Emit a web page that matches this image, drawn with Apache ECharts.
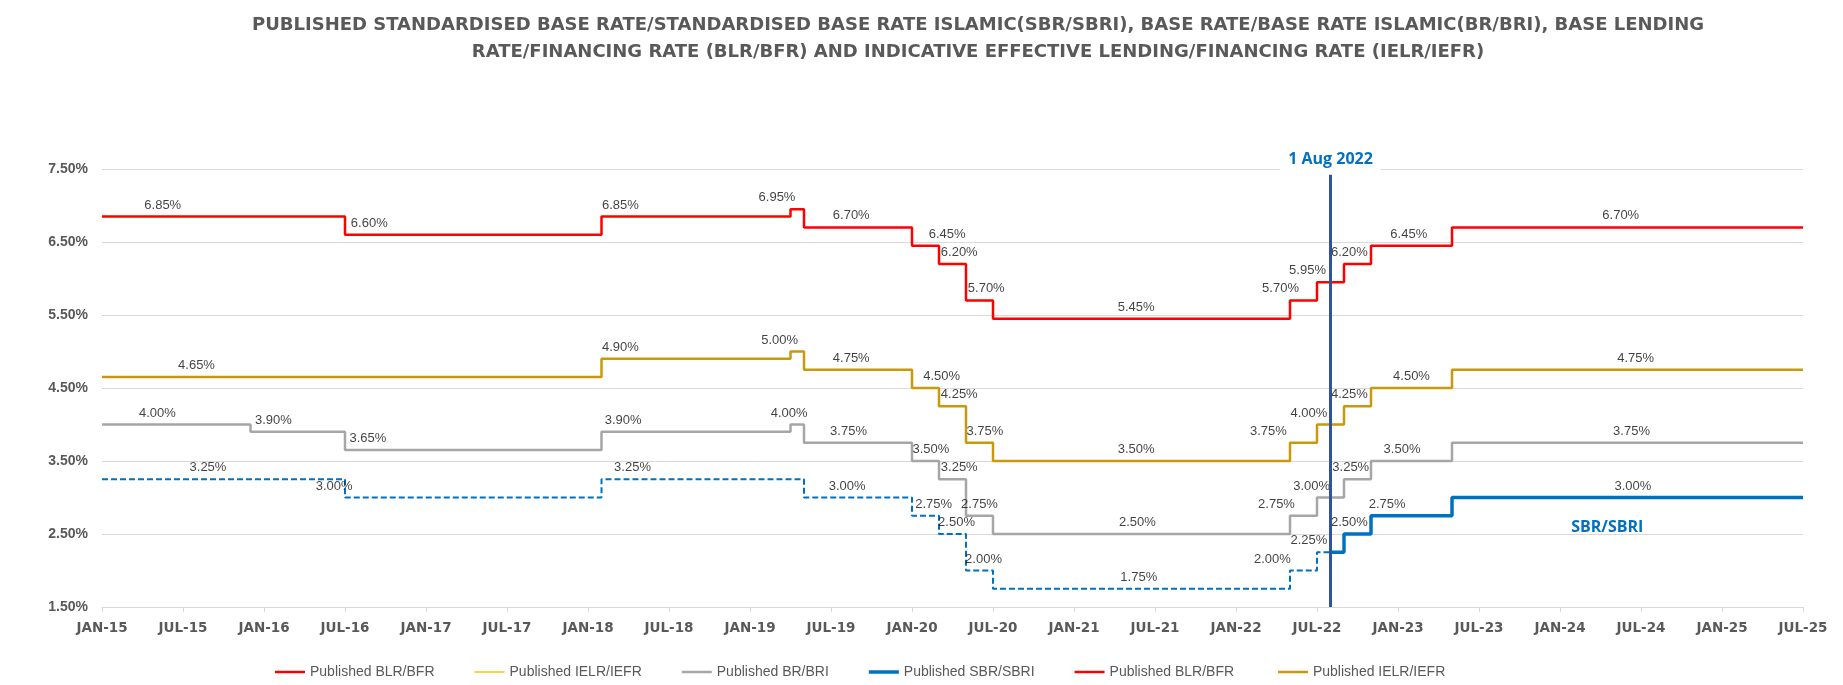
<!DOCTYPE html>
<html>
<head>
<meta charset="utf-8">
<script src="https://cdn.jsdelivr.net/npm/echarts@6/dist/echarts.min.js"></script>
<style>
html,body{margin:0;padding:0;background:#fff;}
#chart{width:1843px;height:685px;}
</style>
</head>
<body>
<div id="chart"></div>
<script>
// Months counted from JAN-2015 (0) to JUL-2025 (126)
const endMonth = 126;
const tickLabels = ['JAN-15','JUL-15','JAN-16','JUL-16','JAN-17','JUL-17','JAN-18','JUL-18','JAN-19','JUL-19','JAN-20','JUL-20','JAN-21','JUL-21','JAN-22','JUL-22','JAN-23','JUL-23','JAN-24','JUL-24','JAN-25','JUL-25'];

// Published BLR/BFR
const blrMonths  = [0, 18, 37, 51, 52, 60, 62, 64, 66, 88, 90, 92, 94, 100];
const blrValues  = [6.85, 6.60, 6.85, 6.95, 6.70, 6.45, 6.20, 5.70, 5.45, 5.70, 5.95, 6.20, 6.45, 6.70];
const blrLabelAt = [4.5, 19.8, 38.4, 50.0, 55.5, 62.6, 63.5, 65.5, 76.6, 87.3, 89.3, 92.4, 96.8, 112.5];

// Published IELR/IEFR
const ielrMonths  = [0, 37, 51, 52, 60, 62, 64, 66, 88, 90, 92, 94, 100];
const ielrValues  = [4.65, 4.90, 5.00, 4.75, 4.50, 4.25, 3.75, 3.50, 3.75, 4.00, 4.25, 4.50, 4.75];
const ielrLabelAt = [7.0, 38.4, 50.2, 55.5, 62.2, 63.5, 65.4, 76.6, 86.4, 89.4, 92.4, 97.0, 113.6];

// Published BR/BRI
const brMonths  = [0, 11, 18, 37, 51, 52, 60, 62, 64, 66, 88, 90, 92, 94, 100];
const brValues  = [4.00, 3.90, 3.65, 3.90, 4.00, 3.75, 3.50, 3.25, 2.75, 2.50, 2.75, 3.00, 3.25, 3.50, 3.75];
const brLabelAt = [4.1, 12.7, 19.7, 38.6, 50.9, 55.3, 61.4, 63.5, 65.0, 76.7, 87.0, 89.6, 92.5, 96.3, 113.3];

// SBR/SBRI before 1 Aug 2022 (dashed)
const changeMonth = 91; // 1 Aug 2022
const changeLabel = '1 Aug 2022';
const preSbrMonths  = [0, 18, 37, 52, 60, 62, 64, 66, 88, 90];
const preSbrValues  = [3.25, 3.00, 3.25, 3.00, 2.75, 2.50, 2.00, 1.75, 2.00, 2.25];
const preSbrLabelAt = [7.85, 17.2, 39.3, 55.2, 61.6, 63.3, 65.3, 76.8, 86.7, 89.4];

// Published SBR/SBRI from 1 Aug 2022
const sbrMonths  = [91, 92, 94, 100];
const sbrValues  = [2.25, 2.50, 2.75, 3.00];
const sbrLabelAt = [null, 92.4, 95.2, 113.4];
const sbrTag = 'SBR/SBRI';
const sbrTagAt = [111.5, 2.59];

const titleText = 'PUBLISHED STANDARDISED BASE RATE/STANDARDISED BASE RATE ISLAMIC(SBR/SBRI), BASE RATE/BASE RATE ISLAMIC(BR/BRI), BASE LENDING\nRATE/FINANCING RATE (BLR/BFR) AND INDICATIVE EFFECTIVE LENDING/FINANCING RATE (IELR/IEFR)';

const legendNames = ['Published BLR/BFR', 'Published IELR/IEFR', 'Published BR/BRI', 'Published SBR/SBRI', 'Published BLR/BFR ', 'Published IELR/IEFR '];
const legendThickness = [2.5, 1.5, 2.5, 3.5, 2.5, 2.5];

function stepData(months, values, last) {
  const d = months.map((m, i) => [m, values[i]]);
  d.push([last, values[values.length - 1]]);
  return d;
}
function labelData(at, values) {
  const d = [];
  at.forEach((x, i) => { if (x !== null) d.push([x, values[i]]); });
  return d;
}
const labelStyle = {
  show: true, position: 'top', distance: 5,
  fontFamily: 'Liberation Sans', fontSize: 13, color: '#111',
  formatter: p => p.value[1].toFixed(2) + '%'
};
function labelSeries(at, values) {
  return {
    type: 'scatter', data: labelData(at, values), symbolSize: 0, silent: true,
    label: labelStyle, z: 5, tooltip: { show: false }
  };
}
function lineSeries(name, data, color, width, dashed) {
  return {
    name: name, type: 'line', step: 'end', data: data, symbol: 'none',
    color: color, itemStyle: { color: color },
    lineStyle: { color: color, width: width, type: dashed ? [6, 3] : 'solid' },
    z: 3
  };
}

const chart = echarts.init(document.getElementById('chart'));
const option = {
  animation: false,
  backgroundColor: '#fff',
  title: {
    text: titleText, left: 973, textAlign: 'center', top: 7,
    textStyle: { fontFamily: 'DejaVu Sans', fontWeight: 'bold', fontSize: 18, color: '#595959', lineHeight: 27 }
  },
  legend: {
    left: 270, bottom: 1, itemGap: 40, itemWidth: 30, itemHeight: 14, symbolKeepAspect: true,
    data: legendNames.map((n, i) => ({ name: n, icon: 'path://M0,0h30v' + legendThickness[i] + 'h-30z' })),
    textStyle: { fontFamily: 'Liberation Sans', fontSize: 14, color: '#595959' }
  },
  grid: { left: 102, right: 40, top: 169, bottom: 78 },
  xAxis: {
    type: 'value', min: 0, max: endMonth, interval: 6,
    axisLine: { show: true, lineStyle: { color: '#D9D9D9', width: 1 } },
    axisTick: { show: true, length: 5, lineStyle: { color: '#D9D9D9' } },
    splitLine: { show: false },
    axisLabel: {
      margin: 14, color: '#595959', fontFamily: 'DejaVu Sans', fontWeight: 'bold', fontSize: 13.5,
      formatter: v => tickLabels[Math.round(v / 6)]
    }
  },
  yAxis: {
    type: 'value', min: 1.5, max: 7.5, interval: 1,
    axisLine: { show: false }, axisTick: { show: false },
    splitLine: { lineStyle: { color: '#D9D9D9', width: 1 } },
    axisLabel: {
      margin: 14, color: '#595959', fontFamily: 'Liberation Sans', fontWeight: 'bold', fontSize: 14,
      formatter: v => v.toFixed(2) + '%'
    }
  },
  series: [
    lineSeries(legendNames[0], stepData(blrMonths, blrValues, endMonth), '#FF0000', 2.5, false),
    lineSeries(legendNames[1], [], '#FFC000', 1.5, false),
    lineSeries(legendNames[2], stepData(brMonths, brValues, endMonth), '#A6A6A6', 2.5, false),
    Object.assign(lineSeries(legendNames[3], stepData(sbrMonths, sbrValues, endMonth), '#0070C0', 3.5, false), {
      markLine: {
        silent: true, symbol: 'none', z: 10,
        lineStyle: { color: '#2F5597', width: 3, type: 'solid' },
        label: {
          show: true, position: 'start', distance: 4, formatter: changeLabel,
          color: '#0070C0', fontFamily: 'Open Sans', fontWeight: 'bold', fontSize: 16,
          backgroundColor: '#fff', padding: [3, 8, 3, 8]
        },
        data: [[{ coord: [changeMonth, 7.42] }, { coord: [changeMonth, 1.5] }]]
      },
      markPoint: {
        silent: true, symbolSize: 0,
        label: { show: true, position: 'inside', formatter: sbrTag, color: '#0070C0', fontFamily: 'Open Sans', fontWeight: 'bold', fontSize: 16 },
        data: [{ coord: sbrTagAt }]
      }
    }),
    lineSeries(legendNames[4], [], '#FF0000', 2.5, false),
    lineSeries(legendNames[5], stepData(ielrMonths, ielrValues, endMonth), '#C9980B', 2.5, false),
    lineSeries('preSBR', stepData(preSbrMonths, preSbrValues, changeMonth), '#0070C0', 2, true),
    labelSeries(blrLabelAt, blrValues),
    labelSeries(ielrLabelAt, ielrValues),
    labelSeries(brLabelAt, brValues),
    labelSeries(preSbrLabelAt, preSbrValues),
    labelSeries(sbrLabelAt, sbrValues)
  ]
};
chart.setOption(option);
</script>
</body>
</html>
